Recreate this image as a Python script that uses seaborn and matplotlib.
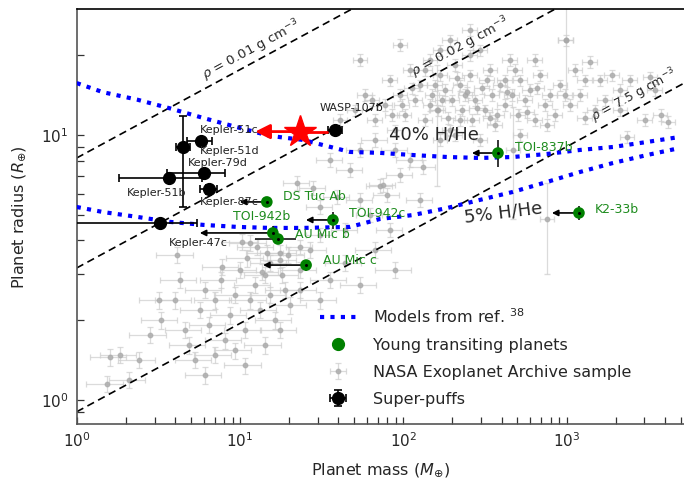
import matplotlib
matplotlib.use("Agg")
import matplotlib.pyplot as plt
import numpy as np
import pandas as pd
import seaborn as sns
from matplotlib.ticker import LogLocator, NullFormatter
from matplotlib.lines import Line2D

# ---------------- data ----------------
# interior-structure model curves (mass in Earth masses, radius in Earth radii)
model_mass = [1.0, 1.45, 2.34, 3.73, 5.94, 9.59, 15.3, 24.3, 47.2, 72, 115, 185, 295, 470, 759, 1208, 1923, 3105, 4940]
model_r_40 = [15.7, 14.5, 13.6, 12.6, 11.6, 10.7, 9.92, 9.58, 8.63, 8.56, 8.40, 8.26, 8.19, 8.26, 8.48, 8.78, 9.01, 9.41, 9.83]
model_r_5 = [5.35, 5.12, 4.91, 4.70, 4.58, 4.50, 4.46, 4.46, 4.50, 4.82, 4.99, 5.30, 5.69, 6.10, 6.65, 7.25, 7.84, 8.40, 8.93]

# iso-density lines: radius at 1 Earth mass, R = R1 * M^(1/3)
density_labels = [r"$\rho$ = 0.01 g cm$^{-3}$", r"$\rho$ = 0.02 g cm$^{-3}$", r"$\rho$ = 7.5 g cm$^{-3}$"]
density_r_at_1 = [8.19, 3.15, 0.903]

# young transiting planets
young_names = ["DS Tuc Ab", "TOI-942b", "TOI-942c", "AU Mic b", "AU Mic c", "TOI-837b", "K2-33b"]
young_mass = [14.6, 15.9, 37.1, 17.1, 25.4, 380, 1191]
young_radius = [5.59, 4.27, 4.78, 4.05, 3.23, 8.55, 5.08]
young_mass_err = [0, 0, 0, 4.8, 0, 0, 0]
young_radius_err = [0.1, 0.25, 0.35, 0.15, 0.15, 1.0, 0.3]
young_upper_limit = [True, True, True, False, True, True, True]

# super-puffs
sp_names = ["WASP-107b", "Kepler-51c", "Kepler-51d", "Kepler-79d", "Kepler-51b", "Kepler-87c", "Kepler-47c"]
sp_mass = [38.2, 4.48, 5.77, 6.04, 3.67, 6.46, 3.24]
sp_radius = [10.4, 9.0, 9.49, 7.19, 6.88, 6.25, 4.65]
sp_mass_lo = [3.5, 0.4, 1.0, 2.46, 1.85, 0.8, 2.4]
sp_mass_hi = [3.8, 0.45, 1.0, 2.06, 2.2, 0.8, 2.2]
sp_radius_lo = [0.3, 3.65, 0.25, 0.2, 0.15, 0.25, 0.1]
sp_radius_hi = [0.3, 2.8, 0.25, 0.2, 0.15, 0.25, 0.1]

# highlighted planet (red star) with mass upper limit
star_mass = 23.3
star_radius = 10.3
star_mass_limit_low = 12.4
star_mass_limit_high = 34.1

# NASA Exoplanet Archive sample
nasa_small_mass = [1.6, 1.53, 2.8, 3.3, 4.0, 4.6, 4.9, 5.7, 6.1, 6.5, 7.0, 7.6, 8.1, 8.7, 9.3, 10.0, 10.7, 11.5, 12.3, 13.3,
                   14.2, 15.3, 16.4, 17.6, 18.9, 20.2, 4.1, 7.8, 10.3, 11.5, 12.8, 14.6, 17.6, 19.6, 13.6, 11.0, 15.3, 18.1,
                   5.3, 7.0, 9.3, 6.1, 23.4, 26.8, 4.3, 3.2, 2.4,
                   35.6, 44.0, 54.5, 67.1, 88.9, 31.0, 23.4, 10.7, 14.2, 17.6, 2.1, 1.84]
nasa_small_radius = [1.45, 1.15, 1.76, 2.0, 2.38, 1.84, 1.61, 2.19, 2.6, 1.92, 2.38, 2.84, 1.68, 2.09, 2.49, 3.1, 1.84, 2.38, 2.72, 2.19,
                     2.96, 2.49, 2.0, 3.38, 2.6, 2.28, 3.53, 3.18, 3.95, 3.91, 3.78, 3.59, 3.59, 3.53, 3.04, 3.43, 3.29, 2.96,
                     1.42, 1.48, 1.54, 1.24, 3.1, 3.68, 2.84, 2.38, 1.42,
                     2.84, 3.29, 2.72, 3.68, 3.10, 2.38, 2.6, 1.35, 1.61, 1.84, 1.19, 1.48]
nasa_mid_mass = [22.3, 28.0, 39.3, 31.0, 72.3, 79.5, 31.0, 23.4, 47.2, 54.5, 62.5, 44.0, 95.5, 110, 35.6, 82.8, 127, 54.5,
                 67.1, 88.9, 132, 75.1]
nasa_mid_radius = [6.59, 6.31, 5.83, 5.35, 6.42, 5.94, 4.2, 3.78, 7.37, 5.69, 4.99, 4.38, 7.06, 8.04, 8.04, 4.38, 5.69, 8.77,
                   9.57, 8.77, 7.57, 6.48]
nasa_giant_mass = [41.1, 50.6, 58.2, 67.1, 77.3, 82.8, 88.9, 95.9, 102, 110, 118, 127, 136, 146, 150, 163, 168, 180, 193, 199,
                   207, 223, 229, 239, 256, 263, 275, 296, 303, 316, 340, 349, 364, 393, 419, 450, 463, 504, 521, 556,
                   597, 640, 691, 738, 791, 849, 917, 991, 1050, 1127, 1216, 1390, 1493, 1613, 1718, 1897, 2140, 2445, 3020, 3243,
                   3475, 3765, 4180, 193, 256, 168, 296, 521, 54.5, 95.9, 2345, 136, 156, 173, 188, 213, 245, 282, 325, 374,
                   431, 483, 572, 658, 759, 113, 98, 85.3, 64.3, 146, 223, 340, 419, 256, 168, 640, 977, 1294, 2140, 1294, 207]
nasa_giant_radius = [11.4, 12.4, 14.2, 11.4, 13.0, 16.1, 10.4, 14.2, 11.9, 17.6, 13.5, 15.4, 11.4, 19.2, 14.2, 12.4, 16.8, 14.8, 10.4, 13.5,
                     18.4, 15.4, 12.4, 14.2, 16.8, 11.4, 13.5, 20.9, 15.0, 12.4, 17.6, 14.2, 10.9, 15.4, 13.0, 19.2, 14.2, 11.9, 16.1, 13.5,
                     14.8, 11.4, 16.8, 13.0, 14.2, 11.9, 15.4, 22.8, 13.0, 17.6, 14.2, 18.9, 12.4, 16.1, 13.5, 16.8, 12.4, 16.1, 11.4, 16.5,
                     14.8, 11.9, 11.2, 22.8, 24.9, 9.57, 9.57, 10.0, 19.2, 21.9, 9.83, 17.6, 15.4, 13.5, 11.6, 16.4, 14.5, 12.6, 16.1, 11.9,
                     14.5, 17.6, 12.2, 15.0, 10.9, 15.0, 13.0, 11.9, 13.5, 13.0, 11.4, 11.6, 16.1, 20.0, 20.9, 19.2, 14.2, 11.6, 14.8, 16.1, 10.0]
# typical fractional uncertainties for each group
nasa_small_err = (0.25, 0.07)
nasa_mid_err = (0.18, 0.06)
nasa_giant_err = (0.10, 0.05)
# a few poorly constrained planets with large radius errors
nasa_wide_mass = [470, 760, 160, 990]
nasa_wide_radius = [8.8, 4.8, 12.4, 22.8]
nasa_wide_radius_err = [4.0, 1.8, 6.0, 9.0]

# ---------------- figure ----------------
sns.set_theme(style="ticks")
plt.rcParams['font.family'] = ['DejaVu Sans']
plt.rcParams['mathtext.fontset'] = 'dejavusans'

W, H = 684, 487
fig = plt.figure(figsize=(W / 100, H / 100), dpi=100)
ax_l, ax_r, ax_t, ax_b = 76.7, 684.0, 9.3, 424.0
ax = fig.add_axes([ax_l / W, 1 - ax_b / H, (ax_r - ax_l) / W, (ax_b - ax_t) / H])
ax.set_xscale('log')
ax.set_yscale('log')
ax.set_xlim(1, 5240)
ax.set_ylim(0.812, 29.8)

gray_pt = '#a8a8a8'
gray_err = '#cfcfcf'

# NASA sample
nasa_handle = None
for m, r, (fm, fr) in [(nasa_small_mass, nasa_small_radius, nasa_small_err),
                       (nasa_mid_mass, nasa_mid_radius, nasa_mid_err),
                       (nasa_giant_mass, nasa_giant_radius, nasa_giant_err)]:
    m = np.asarray(m); r = np.asarray(r)
    h = ax.errorbar(m, r, xerr=fm * m, yerr=fr * r, fmt='o', ms=3.2, color=gray_pt,
                    ecolor=gray_err, elinewidth=0.9, capsize=2, capthick=0.9, alpha=0.75, zorder=1)
    if nasa_handle is None:
        nasa_handle = h
ax.errorbar(nasa_wide_mass, nasa_wide_radius, xerr=0.1 * np.asarray(nasa_wide_mass), yerr=nasa_wide_radius_err,
            fmt='o', ms=3.2, color=gray_pt, ecolor=gray_err, elinewidth=0.9, capsize=2, alpha=0.75, zorder=1)

# iso-density lines
mgrid = np.logspace(0, np.log10(5240), 60)
for r1 in density_r_at_1:
    sns.lineplot(x=mgrid, y=r1 * mgrid ** (1 / 3), ax=ax, color='black', lw=1.2,
                 linestyle=(0, (4.5, 2.8)), zorder=2)

# model curves
dotted = (0, (1, 1.5))
sns.lineplot(x=model_mass, y=model_r_40, ax=ax, color='#0000ff', lw=3, linestyle=dotted, zorder=3)
sns.lineplot(x=model_mass, y=model_r_5, ax=ax, color='#0000ff', lw=3, linestyle=dotted, zorder=3)

# super-puffs
sp_handle = ax.errorbar(sp_mass, sp_radius, xerr=[sp_mass_lo, sp_mass_hi], yerr=[sp_radius_lo, sp_radius_hi],
                        fmt='o', ms=8.5, color='black', ecolor='black', elinewidth=1.2, capsize=3, capthick=1.2, zorder=4)

# young planets
ax.errorbar(young_mass, young_radius, xerr=young_mass_err, yerr=young_radius_err, fmt='none',
            ecolor='black', elinewidth=1.1, capsize=0, zorder=4)
sns.scatterplot(x=young_mass, y=young_radius, ax=ax, color='#008000', s=70, edgecolor='none', zorder=5)
ax.plot(young_mass, young_radius, 'o', color='black', ms=1.2, zorder=6)

arrow_len = {"DS Tuc Ab": 0.683, "TOI-942b": 0.357, "TOI-942c": 0.683, "AU Mic c": 0.545,
             "TOI-837b": 0.693, "K2-33b": 0.683}
for n, m, r, ul in zip(young_names, young_mass, young_radius, young_upper_limit):
    if ul:
        ax.annotate('', xy=(m * arrow_len[n], r), xytext=(m, r),
                    arrowprops=dict(arrowstyle='-|>', color='black', lw=1.2, mutation_scale=9,
                                    shrinkA=0, shrinkB=0), zorder=4)

young_lab = {"DS Tuc Ab": (16, 5, 'left'), "TOI-942b": (-11, 16, 'center'), "TOI-942c": (16, 6, 'left'),
             "AU Mic b": (17, 5, 'left'), "AU Mic c": (17, 5, 'left'), "TOI-837b": (17, 6, 'left'),
             "K2-33b": (16, 3, 'left')}
for n, m, r in zip(young_names, young_mass, young_radius):
    dx, dy, ha = young_lab[n]
    ax.annotate(n, (m, r), xytext=(dx, dy), textcoords='offset pixels', ha=ha, va='center',
                color='#1e8c1e', fontsize=9, zorder=7)

sp_lab = {"WASP-107b": (-15, 22), "Kepler-51c": (17, 17), "Kepler-51d": (-1, -10), "Kepler-79d": (-16, 10),
          "Kepler-51b": (-42, -15), "Kepler-87c": (-9, -13), "Kepler-47c": (9, -20)}
for n, m, r in zip(sp_names, sp_mass, sp_radius):
    dx, dy = sp_lab[n]
    ax.annotate(n, (m, r), xytext=(dx, dy), textcoords='offset pixels', ha='left', va='center',
                color='#222222', fontsize=8, zorder=7)

# red star
ax.plot([star_mass, star_mass_limit_high], [star_radius, star_radius], color='red', lw=2, zorder=6)
ax.annotate('', xy=(star_mass_limit_low, star_radius), xytext=(star_mass, star_radius),
            arrowprops=dict(arrowstyle='-|>', color='red', lw=2, mutation_scale=22, shrinkA=0, shrinkB=0), zorder=6)
ax.plot([star_mass], [star_radius], marker='*', color='red', ms=24, mec='red', zorder=7)

# text labels on the figure
rot = 28.4
ax.text(11.8, 20.9, density_labels[0], rotation=rot, ha='center', va='center', fontsize=9.5, rotation_mode='anchor')
ax.text(223, 21.5, density_labels[1], rotation=rot, ha='center', va='center', fontsize=9.5, rotation_mode='anchor')
ax.text(2600, 14.1, density_labels[2], rotation=rot, ha='center', va='center', fontsize=9, rotation_mode='anchor')
ax.text(155, 10.0, "40% H/He", ha='center', va='center', fontsize=13)
ax.text(408, 5.08, "5% H/He", ha='center', va='center', fontsize=13, rotation=7, rotation_mode='anchor')

# axes styling
ax.xaxis.set_major_locator(LogLocator(base=10, numticks=10))
ax.xaxis.set_minor_locator(LogLocator(base=10, subs=np.arange(2, 10), numticks=20))
ax.yaxis.set_minor_locator(LogLocator(base=10, subs=np.arange(2, 10), numticks=20))
ax.xaxis.set_minor_formatter(NullFormatter())
ax.yaxis.set_minor_formatter(NullFormatter())
ax.tick_params(which='both', direction='in', length=5, width=0.9, color='#333333', labelsize=11, pad=6)
ax.tick_params(axis='x', pad=5)
for s in ['left', 'bottom']:
    ax.spines[s].set_color('#555555')
    ax.spines[s].set_linewidth(1.2)
ax.spines['top'].set_color('black')
ax.spines['top'].set_linewidth(1.2)
ax.spines['right'].set_visible(False)
ax.grid(False)

ax.set_xlabel(r"Planet mass ($M_{\oplus}$)", fontsize=11.5, labelpad=8)
ax.set_ylabel(r"Planet radius ($R_{\oplus}$)", fontsize=11.5, labelpad=9)

# legend
h_model = Line2D([], [], color='#0000ff', lw=3, linestyle=dotted)
h_young = Line2D([], [], marker='o', color='#008000', ls='none', ms=8.5)
leg = ax.legend([h_model, h_young, nasa_handle, sp_handle],
                [r"Models from ref. $^{38}$", "Young transiting planets", "NASA Exoplanet Archive sample", "Super-puffs"],
                loc='upper left', bbox_to_anchor=(0.390, 0.2976), borderaxespad=0, frameon=False,
                fontsize=11.5, handlelength=2.3, handletextpad=1.0, labelspacing=0.75)

fig.savefig("out.png", dpi=100)
